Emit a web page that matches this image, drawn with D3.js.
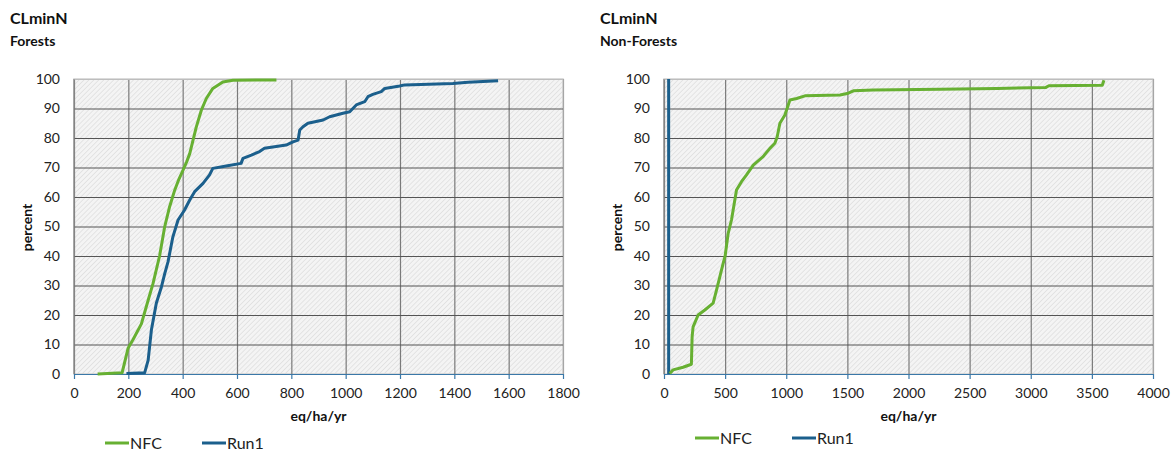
<!DOCTYPE html>
<html>
<head>
<meta charset="utf-8">
<script src="https://cdn.jsdelivr.net/npm/d3@7"></script>
<style>
  html, body { margin: 0; padding: 0; background: #ffffff; }
  svg { display: block; font-family: Lato, "Open Sans", sans-serif; }
</style>
</head>
<body>
<svg id="chart" width="1174" height="455"></svg>
<script>
// ---------- data ----------
const seriesNames = ["NFC", "Run1"];
const mainTitle = "CLminN";
const subTitles = ["Forests", "Non-Forests"];
const xAxisTitle = "eq/ha/yr";
const yAxisTitle = "percent";

const forestXTicks = [0, 200, 400, 600, 800, 1000, 1200, 1400, 1600, 1800];
const nonForestXTicks = [0, 500, 1000, 1500, 2000, 2500, 3000, 3500, 4000];
const yTicks = [0, 10, 20, 30, 40, 50, 60, 70, 80, 90, 100];

// Forests: [eq/ha/yr, percent]
const forestNFC = [
  [87, 0], [177, 0.4], [199, 8.7], [217, 11.6], [248, 17], [266, 22.8], [291, 30.7],
  [315, 40], [334, 50], [352, 56.7], [371, 62.4], [386, 66], [401, 69], [415, 72],
  [426, 74.7], [438, 79.2], [450, 83.7], [469, 89.5], [487, 93.4], [511, 96.8],
  [548, 99], [585, 99.6], [745, 99.7]
];
const forestRun1 = [
  [193, 0.2], [260, 0.4], [273, 4.7], [285, 15], [303, 24], [322, 29.6], [334, 34],
  [346, 38], [364, 46.5], [383, 52.2], [407, 55.6], [426, 59], [444, 61.8], [475, 64.6],
  [499, 67.5], [511, 69.7], [560, 70.5], [615, 71.4], [622, 73.1], [653, 74.2], [683, 75.4],
  [701, 76.5], [781, 77.6], [806, 78.7], [825, 79.3], [831, 82.7], [843, 83.8], [861, 85],
  [917, 86.1], [941, 87.2], [990, 88.4], [1015, 88.9], [1039, 91.2], [1070, 92.3], [1082, 94],
  [1100, 94.8], [1131, 95.7], [1144, 96.8], [1199, 97.6], [1217, 98], [1395, 98.5],
  [1450, 98.9], [1561, 99.4]
];

// Non-Forests: [eq/ha/yr, percent]
const nonForestNFC = [
  [47, 0.2], [74, 1.4], [156, 2.3], [224, 3.3], [230, 12.6], [238, 16], [279, 20],
  [334, 21.7], [402, 24], [430, 28.5], [457, 33], [484, 37.5], [500, 40], [525, 47.7],
  [552, 52.2], [593, 62.4], [634, 65.2], [675, 67.5], [730, 70.8], [811, 73.7], [866, 76.5],
  [907, 78.2], [926, 80.4], [948, 85], [989, 87.8], [1030, 92.9], [1085, 93.4], [1153, 94.3],
  [1440, 94.6], [1508, 95.2], [1549, 96], [1713, 96.3], [2260, 96.5], [2725, 96.8],
  [3121, 97.1], [3148, 97.7], [3585, 97.9], [3599, 99.6]
];
const nonForestRun1 = [[38, 0], [38, 100]];

// ---------- drawing ----------
const colors = { NFC: "#67b032", Run1: "#1b5f8c" };
const svg = d3.select("#chart");

const defs = svg.append("defs");
const pat = defs.append("pattern")
  .attr("id", "hatch").attr("patternUnits", "userSpaceOnUse")
  .attr("width", 3.5).attr("height", 3.5)
  .attr("patternTransform", "rotate(45)");
pat.append("rect").attr("width", 3.5).attr("height", 3.5).attr("fill", "#f4f4f4");
pat.append("line").attr("x1", 0).attr("y1", 0).attr("x2", 0).attr("y2", 3.5)
  .attr("stroke", "#d6d6d6").attr("stroke-width", 1.1);

function drawChart(cfg) {
  const { ox, plotL, plotR, plotT, plotB, xMax, xTicks, sub, nfc, run1, legend } = cfg;
  const g = svg.append("g");
  const x = d3.scaleLinear().domain([0, xMax]).range([plotL, plotR]);
  const y = d3.scaleLinear().domain([0, 100]).range([plotB, plotT]);
  const fmt = d3.format("d");

  // titles
  g.append("text").attr("x", ox).attr("y", 24)
    .attr("font-weight", "bold").attr("font-size", 16).attr("fill", "#111").text(mainTitle);
  g.append("text").attr("x", ox).attr("y", 46)
    .attr("font-weight", "bold").attr("font-size", 14).attr("fill", "#111").text(sub);

  // plot background
  g.append("rect").attr("x", plotL).attr("y", plotT)
    .attr("width", plotR - plotL).attr("height", plotB - plotT)
    .attr("fill", "url(#hatch)").attr("stroke", "#d0d0d0").attr("stroke-width", 1.5);

  // vertical gridlines
  g.append("g").attr("transform", `translate(0,${plotB})`)
    .call(d3.axisBottom(x).tickValues(xTicks).tickSize(-(plotB - plotT)).tickFormat(""))
    .call(s => s.select(".domain").remove())
    .call(s => s.selectAll("line").attr("stroke", d => d === xMax ? "#a6a6a6" : "#7a7a7a").attr("stroke-width", 1.2));

  // horizontal gridlines
  g.append("g").attr("transform", `translate(${plotL},0)`)
    .call(d3.axisLeft(y).tickValues(yTicks.filter(v => v > 0)).tickSize(-(plotR - plotL)).tickFormat(""))
    .call(s => s.select(".domain").remove())
    .call(s => s.selectAll("line").attr("stroke", d => d === 100 ? "#bdbdbd" : "#555").attr("stroke-width", 1.1));

  // left axis line
  g.append("line").attr("x1", plotL).attr("x2", plotL).attr("y1", plotT).attr("y2", plotB)
    .attr("stroke", "#8c8c8c").attr("stroke-width", 1.2);

  // y tick labels
  g.append("g").attr("transform", `translate(${plotL},0)`)
    .call(d3.axisLeft(y).tickValues(yTicks).tickSize(0).tickPadding(14).tickFormat(fmt))
    .call(s => s.select(".domain").remove())
    .call(s => s.selectAll("text").attr("font-family", "Lato, 'Open Sans', sans-serif")
      .attr("font-size", 14).attr("fill", "#222"));

  // x axis
  g.append("g").attr("transform", `translate(0,${plotB})`)
    .call(d3.axisBottom(x).tickValues(xTicks).tickSize(5).tickPadding(9).tickSizeOuter(0).tickFormat(fmt))
    .call(s => s.select(".domain").attr("stroke", "#3a78a8").attr("stroke-width", 1.2))
    .call(s => s.selectAll("line").attr("stroke", "#3a78a8").attr("stroke-width", 1.2))
    .call(s => s.selectAll("text").attr("font-family", "Lato, 'Open Sans', sans-serif")
      .attr("font-size", 14).attr("fill", "#222"));

  // axis titles
  g.append("text").attr("x", (plotL + plotR) / 2).attr("y", 421)
    .attr("text-anchor", "middle").attr("font-weight", "bold").attr("font-size", 14)
    .attr("fill", "#111").text(xAxisTitle);
  g.append("text").attr("transform", `translate(${ox + 22},${(plotT + plotB) / 2 + 1}) rotate(-90)`)
    .attr("text-anchor", "middle").attr("font-weight", "bold").attr("font-size", 14)
    .attr("fill", "#111").text(yAxisTitle);

  // lines
  const line = d3.line().x(d => x(d[0])).y(d => y(d[1]));
  const clip = "clip" + ox;
  defs.append("clipPath").attr("id", clip).append("rect")
    .attr("x", plotL - 2).attr("y", plotT - 3).attr("width", plotR - plotL + 4).attr("height", plotB - plotT + 5);
  const lg = g.append("g").attr("clip-path", `url(#${clip})`);
  lg.append("path").datum(run1).attr("d", line).attr("fill", "none")
    .attr("stroke", colors.Run1).attr("stroke-width", 3).attr("stroke-linejoin", "round");
  lg.append("path").datum(nfc).attr("d", line).attr("fill", "none")
    .attr("stroke", colors.NFC).attr("stroke-width", 3).attr("stroke-linejoin", "round");

  // legend
  seriesNames.forEach((name, i) => {
    const lx = legend.x[i];
    g.append("line").attr("x1", lx).attr("x2", lx + 24).attr("y1", legend.y).attr("y2", legend.y)
      .attr("stroke", colors[name]).attr("stroke-width", 3);
    g.append("text").attr("x", lx + 25).attr("y", legend.y + 6)
      .attr("font-size", 16).attr("fill", "#222").text(name);
  });
}

drawChart({
  ox: 10, plotL: 74, plotR: 563, plotT: 79, plotB: 374, xMax: 1800, xTicks: forestXTicks,
  sub: subTitles[0], nfc: forestNFC, run1: forestRun1,
  legend: { x: [105, 202], y: 443 }
});
drawChart({
  ox: 600, plotL: 664, plotR: 1153, plotT: 79, plotB: 374, xMax: 4000, xTicks: nonForestXTicks,
  sub: subTitles[1], nfc: nonForestNFC, run1: nonForestRun1,
  legend: { x: [695, 792], y: 438 }
});
</script>
</body>
</html>
